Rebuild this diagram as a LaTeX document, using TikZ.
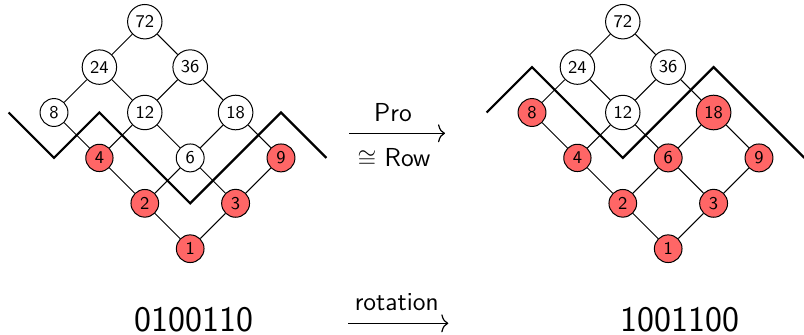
\documentclass[tikz,border=0pt]{standalone}
\usepackage{fontspec}
\usetikzlibrary{arrows.meta}
\begin{document}
\begin{tikzpicture}[x=0.5pt,y=-0.5pt,
  elem/.style={circle,draw,line width=0.5pt,inner sep=2.2pt,fill=white,
    font=\sffamily\fontsize{9}{10}\selectfont},
  inideal/.style={elem,fill=red!60},
  cover/.style={line width=0.5pt},
  zig/.style={line width=1.1pt,line join=miter},
  lbl/.style={font=\sffamily\fontsize{13}{15}\selectfont,anchor=base,inner sep=0pt},
  word/.style={font=\sffamily\fontsize{18}{20}\selectfont,anchor=base,inner sep=0pt},
  maparrow/.style={line width=0.6pt,-{To[length=3.5pt,width=9pt]}}]
\useasboundingbox (0,0) rectangle (804,334);

% divisor lattice of 72 (left), order ideal {1,2,3,4,9}
\begin{scope}[xshift=27pt,yshift=-10.85pt,x=22.7pt,y=-22.7pt]
  \node[elem]    (a72) at (2,0) {72};
  \node[elem]    (a24) at (1,1) {24};
  \node[elem]    (a36) at (3,1) {36};
  \node[elem]    (a8)  at (0,2) {8};
  \node[elem]    (a12) at (2,2) {12};
  \node[elem]    (a18) at (4,2) {18};
  \node[inideal] (a4)  at (1,3) {4};
  \node[elem]    (a6)  at (3,3) {6};
  \node[inideal] (a9)  at (5,3) {9};
  \node[inideal] (a2)  at (2,4) {2};
  \node[inideal] (a3)  at (4,4) {3};
  \node[inideal] (a1)  at (3,5) {1};
  \draw[cover] (a72)--(a24) (a72)--(a36) (a24)--(a8) (a24)--(a12)
    (a36)--(a12) (a36)--(a18) (a8)--(a4) (a12)--(a4) (a12)--(a6)
    (a18)--(a6) (a18)--(a9) (a4)--(a2) (a6)--(a2) (a6)--(a3)
    (a9)--(a3) (a2)--(a1) (a3)--(a1);
  \coordinate (za0) at (-1,2);
  \coordinate (za1) at (0,3);
  \coordinate (za2) at (1,2);
  \coordinate (za3) at (3,4);
  \coordinate (za4) at (5,2);
  \coordinate (za5) at (6,3);
  \draw[zig] (za0)--(za1)--(za2)--(za3)--(za4)--(za5);
\end{scope}

% divisor lattice of 72 (right), order ideal after promotion
\begin{scope}[xshift=266pt,yshift=-10.85pt,x=22.7pt,y=-22.7pt]
  \node[elem]    (b72) at (2,0) {72};
  \node[elem]    (b24) at (1,1) {24};
  \node[elem]    (b36) at (3,1) {36};
  \node[inideal] (b8)  at (0,2) {8};
  \node[elem]    (b12) at (2,2) {12};
  \node[inideal] (b18) at (4,2) {18};
  \node[inideal] (b4)  at (1,3) {4};
  \node[inideal] (b6)  at (3,3) {6};
  \node[inideal] (b9)  at (5,3) {9};
  \node[inideal] (b2)  at (2,4) {2};
  \node[inideal] (b3)  at (4,4) {3};
  \node[inideal] (b1)  at (3,5) {1};
  \draw[cover] (b72)--(b24) (b72)--(b36) (b24)--(b8) (b24)--(b12)
    (b36)--(b12) (b36)--(b18) (b8)--(b4) (b12)--(b4) (b12)--(b6)
    (b18)--(b6) (b18)--(b9) (b4)--(b2) (b6)--(b2) (b6)--(b3)
    (b9)--(b3) (b2)--(b1) (b3)--(b1);
  \coordinate (zb0) at (-1,2);
  \coordinate (zb1) at (0,1);
  \coordinate (zb2) at (2,3);
  \coordinate (zb3) at (4,1);
  \coordinate (zb4) at (6,3);
  \draw[zig] (zb0)--(zb1)--(zb2)--(zb3)--(zb4);
\end{scope}

% promotion arrow
\coordinate (pa) at (349,133.3);
\coordinate (pb) at (445,133.3);
\draw[maparrow] (pa) -- (pb);
\node[lbl] (pro) at (393,121.7) {Pro};
\node[lbl] (row) at (394,166) {$\cong$\ Row};

% binary words and rotation
\node[word] (w1) at (193.7,331.5) {0100110};
\node[word] (w2) at (680,331.5) {1001100};
\coordinate (ra) at (348.3,323.3);
\coordinate (rb) at (448.3,323.3);
\draw[maparrow] (ra) -- (rb);
\node[lbl] (rot) at (396.7,310) {rotation};
\end{tikzpicture}
\end{document}
